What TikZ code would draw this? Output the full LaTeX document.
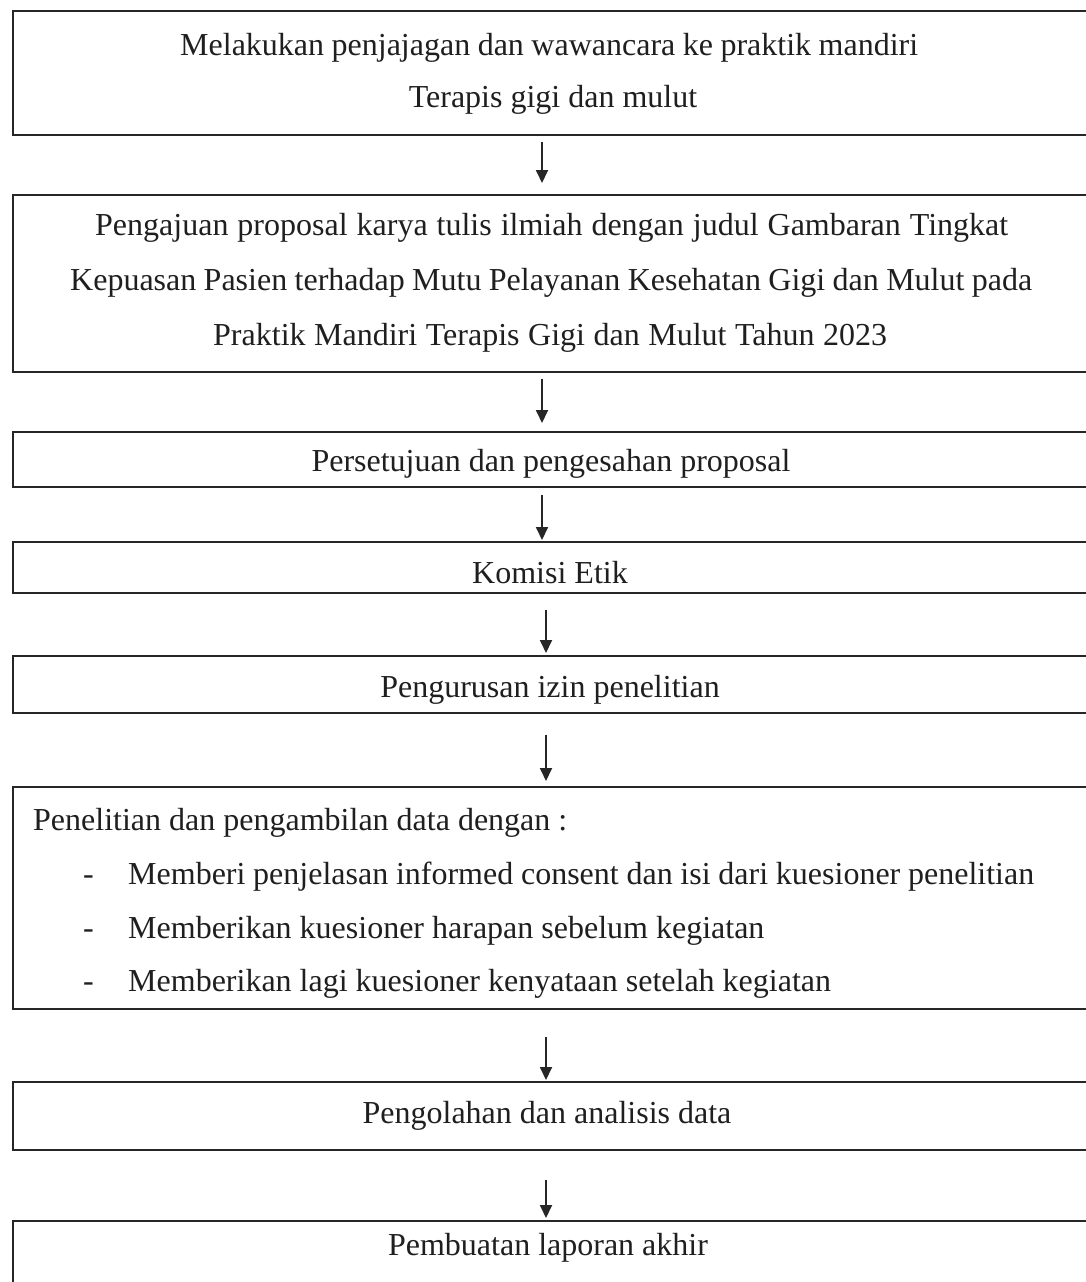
\documentclass[tikz,border=0pt]{standalone}
\usepackage{fontspec}
\setmainfont{Liberation Serif}
\usetikzlibrary{arrows.meta}
\begin{document}
\begin{tikzpicture}[x=1pt,y=-1pt,
 box/.style={draw=black!85, line width=1.6pt, inner sep=0pt, anchor=north west, minimum width=1100pt},
 txt/.style={inner sep=0pt, anchor=base, text=black!88, font=\fontsize{32}{38}\selectfont},
 txtl/.style={txt, anchor=base west},
 arr/.style={draw=black!85, line width=1.8pt, -{Triangle[length=13pt,width=12pt]}}]
\useasboundingbox (0,0) rectangle (1085,1282);
\fill[white] (0,0) rectangle (1085,1282);
% boxes
\node[box, minimum height=124pt] (b1) at (12,10) {};
\node[box, minimum height=177pt] (b2) at (12,194) {};
\node[box, minimum height=55pt] (b3) at (12,431) {};
\node[box, minimum height=51pt] (b4) at (12,541) {};
\node[box, minimum height=57pt] (b5) at (12,655) {};
\node[box, minimum height=222pt] (b6) at (12,786) {};
\node[box, minimum height=68pt] (b7) at (12,1081) {};
\node[box, minimum height=100pt] (b8) at (12,1220) {};
% texts
\node[txtl] (t1a) at (180,55) {\makebox[738pt][s]{Melakukan penjajagan dan wawancara ke praktik mandiri}};
\node[txt] (t1b) at (553,107) {Terapis gigi dan mulut};
\node[txtl] (t2a) at (95,235) {\makebox[913pt][s]{Pengajuan proposal karya tulis ilmiah dengan judul Gambaran Tingkat}};
\node[txtl] (t2b) at (70,290) {\makebox[962pt][s]{Kepuasan Pasien terhadap Mutu Pelayanan Kesehatan Gigi dan Mulut pada}};
\node[txtl] (t2c) at (213,345) {\makebox[674pt][s]{Praktik Mandiri Terapis Gigi dan Mulut Tahun 2023}};
\node[txt] (t3) at (551,471) {Persetujuan dan pengesahan proposal};
\node[txt] (t4) at (550,583) {Komisi Etik};
\node[txt] (t5) at (550,697) {Pengurusan izin penelitian};
\node[txtl] (t6a) at (33,830) {Penelitian dan pengambilan data dengan :};
\node[txtl] (d1) at (83,884) {-};
\node[txtl] (t6b) at (128,884) {\makebox[906pt][s]{Memberi penjelasan informed consent dan isi dari kuesioner penelitian}};
\node[txtl] (d2) at (83,938) {-};
\node[txtl] (t6c) at (128,938) {Memberikan kuesioner harapan sebelum kegiatan};
\node[txtl] (d3) at (83,991) {-};
\node[txtl] (t6d) at (128,991) {Memberikan lagi kuesioner kenyataan setelah kegiatan};
\node[txt] (t7) at (547,1123) {Pengolahan dan analisis data};
\node[txt] (t8) at (548,1255) {Pembuatan laporan akhir};
% arrows
\draw[arr] ([xshift=530pt,yshift=-6pt]b1.south west) -- ([xshift=530pt,yshift=11pt]b2.north west);
\draw[arr] ([xshift=530pt,yshift=-6pt]b2.south west) -- ([xshift=530pt,yshift=8pt]b3.north west);
\draw[arr] ([xshift=530pt,yshift=-7pt]b3.south west) -- ([xshift=530pt,yshift=1pt]b4.north west);
\draw[arr] ([xshift=534pt,yshift=-16pt]b4.south west) -- ([xshift=534pt,yshift=2pt]b5.north west);
\draw[arr] ([xshift=534pt,yshift=-21pt]b5.south west) -- ([xshift=534pt,yshift=5pt]b6.north west);
\draw[arr] ([xshift=534pt,yshift=-27pt]b6.south west) -- ([xshift=534pt,yshift=1pt]b7.north west);
\draw[arr] ([xshift=534pt,yshift=-29pt]b7.south west) -- ([xshift=534pt,yshift=2pt]b8.north west);
\end{tikzpicture}
\end{document}
